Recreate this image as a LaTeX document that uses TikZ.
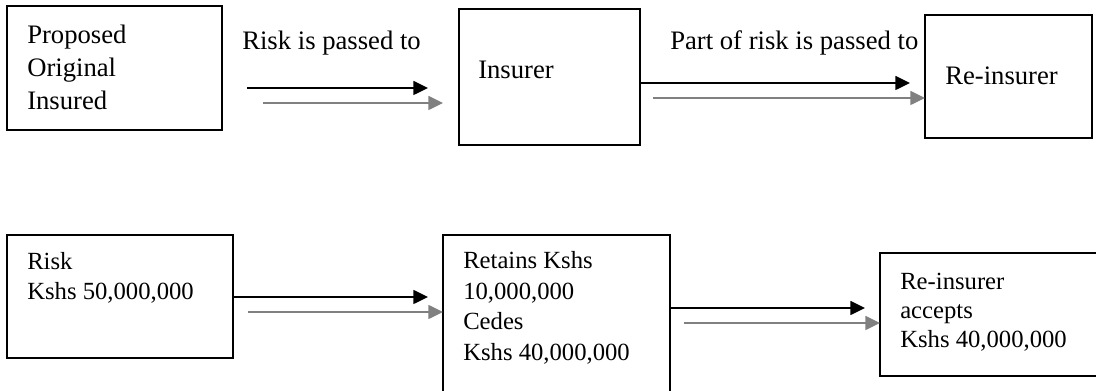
\documentclass[tikz,border=0pt]{standalone}
\usepackage{fontspec}
\setmainfont{Liberation Serif}
\usetikzlibrary{arrows.meta}
\definecolor{arrowgray}{RGB}{128,128,128}
\begin{document}
\begin{tikzpicture}[x=0.75pt,y=-0.75pt,
  box/.style={draw,line width=1.2pt,inner sep=0pt,outer sep=0pt,anchor=north west},
  toptext/.style={font=\fontsize{20}{25.1}\selectfont,align=left,anchor=base west,inner sep=0pt},
  bottext/.style={font=\fontsize{18.5}{22.9}\selectfont,align=left,anchor=base west,inner sep=0pt},
  blackarrow/.style={line width=1.1pt,-{Triangle[length=11pt,width=10.5pt]}},
  grayarrow/.style={blackarrow,draw=arrowgray,fill=arrowgray}]
\useasboundingbox (0,0) rectangle (1096,391);
\clip (0,0) rectangle (1096,391);
% top row boxes
\node[box,minimum width=215*0.75pt,minimum height=124*0.75pt] (b1) at (7,6) {};
\node[box,minimum width=181*0.75pt,minimum height=136*0.75pt] (b2) at (459,9) {};
\node[box,minimum width=167*0.75pt,minimum height=123*0.75pt] (b3) at (925,15) {};
% bottom row boxes
\node[box,minimum width=226*0.75pt,minimum height=123*0.75pt] (b4) at (7,235) {};
\node[box,minimum width=227*0.75pt,minimum height=170*0.75pt] (b5) at (443,235) {};
\node[box,minimum width=225*0.75pt,minimum height=123*0.75pt] (b6) at (880,253) {};
% texts (base anchor = baseline of the last line)
\node[toptext] (t1) at (27,110) {Proposed\\Original\\Insured};
\node[toptext] (t2) at (478,79) {Insurer};
\node[toptext] (t3) at (945,85) {Re-insurer};
\node[toptext] (l1) at (242,50) {Risk is passed to};
\node[toptext] (l2) at (670,50) {Part of risk is passed to};
\node[bottext] (t4) at (27,300) {Risk\\Kshs 50,000,000};
\node[bottext] (t5) at (463,360.5) {Retains Kshs\\10,000,000\\Cedes\\Kshs 40,000,000};
\node[bottext,font=\fontsize{18.5}{21.8}\selectfont] (t6) at (900,348) {Re-insurer\\accepts\\Kshs 40,000,000};
% arrow end points
\coordinate (a1s) at (247,88);
\coordinate (a1e) at (428,88);
\coordinate (g1s) at (263,103);
\coordinate (g1e) at (443,103);
\coordinate (a2e) at (910,83);
\coordinate (g2s) at (653,98);
\coordinate (a3e) at (428,297);
\coordinate (g3s) at (248,312);
\coordinate (a4e) at (865,308);
\coordinate (g4s) at (684,323);
% arrows
\draw[blackarrow] (a1s) -- (a1e);
\draw[grayarrow] (g1s) -- (g1e);
\draw[blackarrow] (b2.east |- a2e) -- (a2e);
\draw[grayarrow] (g2s) -- (b3.west |- g2s);
\draw[blackarrow] (b4.east |- a3e) -- (a3e);
\draw[grayarrow] (g3s) -- (b5.west |- g3s);
\draw[blackarrow] (b5.east |- a4e) -- (a4e);
\draw[grayarrow] (g4s) -- (b6.west |- g4s);
\end{tikzpicture}
\end{document}
